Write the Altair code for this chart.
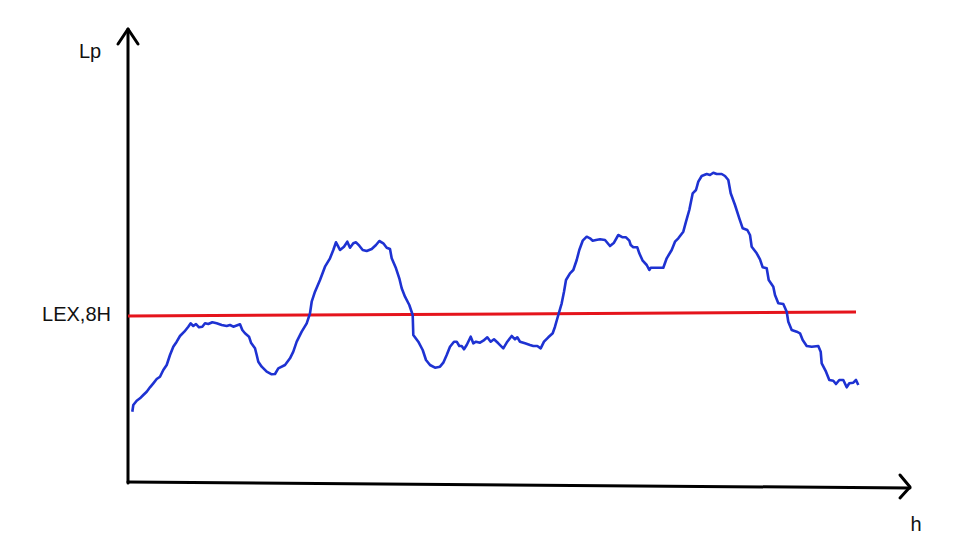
import altair as alt
import pandas as pd

# Measured curve (h along the time axis, Lp level), origin at the axes corner
curve_px_x = [132.3, 133.3, 136.7, 140, 143.3, 146.7, 150, 153.3, 156.7, 160, 163.3, 166.7, 170, 173.3,
              176.7, 180, 184.3, 188.3, 190.7, 193.3, 196, 199, 202.3, 205, 208.3, 212.3, 216.7, 221.7,
              226.7, 230, 233.3, 240, 242.3, 245, 249, 251, 255, 256.7, 258.3, 261.7, 266.7, 271.7,
              275, 278.3, 285, 290, 293.3, 296.7, 301.7, 306.7, 310, 311.7, 315, 320, 325, 330, 333.3,
              336, 338.3, 340, 344, 347.3, 350, 353.3, 356, 359.3, 362.7, 366.7, 371.7, 376, 379.3,
              383.3, 386.7, 390, 391.7, 396, 399.3, 401.7, 405, 409.3, 412.7, 413.3, 418.3, 422.7, 426,
              430, 435, 440, 443.3, 446.7, 450, 454, 456.7, 459.3, 461.7, 464, 466.7, 470.7, 473.3,
              476, 480, 483.3, 487.3, 490.7, 494, 498.3, 503.3, 507.3, 511.7, 515, 517.3, 520, 525,
              530, 533.3, 537.3, 540.7, 544, 548.3, 552.7, 555, 558.3, 561.7, 564, 566, 570, 573.3,
              576.7, 579.3, 582.7, 586.7, 590, 592.7, 596, 600, 605, 610, 614, 618.3, 622.7, 626,
              629.3, 630.7, 633.3, 637.3, 639.3, 642.7, 646.7, 649.3, 650.7, 656.7, 663.3, 666.7,
              671.7, 675, 678.3, 683.3, 686, 689.3, 692.7, 696, 698.3, 701.7, 706.7, 710, 713.3,
              716.7, 721.7, 725, 728.3, 730.7, 735, 739.3, 742.7, 747.3, 750, 751.7, 756.7, 760,
              762.7, 766.7, 768.7, 773.3, 775, 778.3, 783.3, 786.7, 788.3, 791.7, 796.7, 800, 802.7,
              806.7, 811.7, 818.3, 820.7, 821.7, 826, 829.3, 833.3, 836, 839.3, 843.3, 846.7, 849.3,
              853.3, 856, 858.3]
curve_px_y = [411.7, 405, 400.7, 398.3, 395, 391.7, 387.3, 383.3, 379, 376.7, 370, 365, 355, 346.7,
              341.7, 336, 331.7, 326.7, 323.3, 326, 324, 327.3, 326.7, 323.3, 324, 322.3, 323.3, 325,
              326, 325, 326.7, 324.3, 330, 333.3, 336.7, 342.7, 348.3, 355, 361.7, 366.7, 371.7, 374.3,
              374, 368.3, 365, 358.3, 351.7, 341.7, 331.7, 323.3, 313.3, 301.7, 291.7, 280, 266.7,
              258.3, 250, 242.3, 246.7, 250, 246.7, 241.7, 247.7, 243.3, 242.3, 245.7, 250, 251, 249,
              245, 241, 243.3, 247.7, 249, 258.3, 268.3, 278.3, 288.3, 296.7, 305, 315, 335, 341.7,
              350, 360, 365, 367.7, 366.7, 362.7, 355, 346.7, 341.7, 341.7, 346, 346, 349.3, 345,
              336.7, 343.3, 341.7, 342.7, 340.7, 337.3, 341.7, 339.3, 343.3, 348.3, 341.7, 336, 339.3,
              337.3, 341.7, 343.3, 345, 346, 346, 348.3, 341.7, 337.3, 333.3, 326.7, 315, 303.3, 291.7,
              280, 273.3, 270, 260, 250, 240.7, 236.7, 238.3, 240.7, 240, 239.3, 240, 246, 242.7,
              235, 237.3, 237.3, 240.7, 245, 247.3, 247.3, 253.3, 260.7, 265, 270, 267.7, 267.7,
              267.7, 258.3, 250, 241.7, 238.3, 231.7, 221.7, 210, 193.3, 190, 181.7, 176, 174, 175,
              172.7, 174, 174, 176, 180, 193.3, 205, 218.3, 228.3, 230, 235, 246.7, 253.3, 259.3,
              267.3, 268.3, 280, 286.7, 295, 303.3, 304, 311.7, 321.7, 330, 331.7, 333.3, 340, 346,
              346.7, 346, 351.7, 363.3, 371.7, 380, 380.7, 384, 380, 380, 387.3, 383.3, 382.7, 380,
              385]

ORIGIN_X, ORIGIN_Y = 128, 483
h_values = [round(x - ORIGIN_X, 1) for x in curve_px_x]
lp_values = [round(ORIGIN_Y - y, 1) for y in curve_px_y]

# LEX,8H reference level (start / end)
lex_h = [0, 728]
lex_lp = [167, 171]

# Hand-drawn axes with arrowheads (segments)
axis_seg = ["v", "v", "va", "va", "va", "h", "h", "ha", "ha", "ha"]
axis_h = [0, 0, -10, 0, 10, 0, 782, 772, 782, 772]
axis_lp = [0, 454, 439, 454, 439, 1, -5, 8, -4, -15]

labels = ["Lp", "LEX,8H", "h"]
label_h = [-38, -17, 788]
label_lp = [431, 168, -42]
label_align = ["center", "right", "center"]

W, H = 948, 530
xs = alt.Scale(domain=[-120, 828], range=[0, W], nice=False, zero=False)
ys = alt.Scale(domain=[-55, 475], range=[H, 0], nice=False, zero=False)

curve_df = pd.DataFrame({"h": h_values, "Lp": lp_values, "i": range(len(h_values))})
lex_df = pd.DataFrame({"h": lex_h, "Lp": lex_lp})
axis_df = pd.DataFrame({"seg": axis_seg, "h": axis_h, "Lp": axis_lp, "i": range(len(axis_h))})
lab_df = pd.DataFrame({"t": labels, "h": label_h, "Lp": label_lp, "a": label_align})

X = lambda: alt.X("h:Q", scale=xs, axis=None)
Y = lambda: alt.Y("Lp:Q", scale=ys, axis=None)

axes = alt.Chart(axis_df).mark_line(color="#000000", strokeWidth=3, strokeCap="round", strokeJoin="round").encode(
    x=X(), y=Y(), detail="seg:N", order="i:Q")
lex = alt.Chart(lex_df).mark_line(color="#e5141c", strokeWidth=3).encode(x=X(), y=Y())
curve = alt.Chart(curve_df).mark_line(color="#1e32d2", strokeWidth=2.6, strokeJoin="round").encode(
    x=X(), y=Y(), order="i:Q")

text_c = alt.Chart(lab_df[lab_df.a == "center"]).mark_text(
    font="Liberation Sans", fontSize=20, color="#111111", align="center", baseline="middle").encode(
    x=X(), y=Y(), text="t:N")
text_r = alt.Chart(lab_df[lab_df.a == "right"]).mark_text(
    font="Liberation Sans", fontSize=20, color="#111111", align="right", baseline="middle").encode(
    x=X(), y=Y(), text="t:N")

chart = alt.layer(axes, lex, curve, text_c, text_r).properties(
    width=W, height=H, padding=0, autosize=alt.AutoSizeParams(type="none"),
    background="#ffffff"
).configure_view(stroke=None)

chart.save("out.html", embed_options={"renderer": "svg", "actions": False})
